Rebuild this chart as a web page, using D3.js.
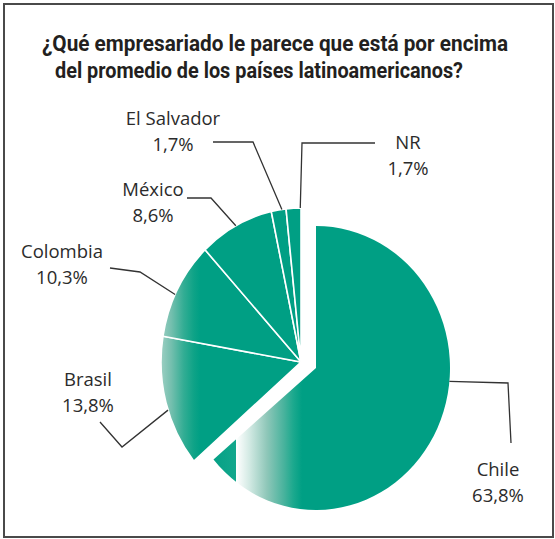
<!DOCTYPE html>
<html>
<head>
<meta charset="utf-8">
<script src="https://cdn.jsdelivr.net/npm/d3@7"></script>
<style>
  body { margin: 0; background: #fff; }
</style>
</head>
<body>
<script>
// data
const countries = ['Chile', 'Brasil', 'Colombia', 'México', 'El Salvador', 'NR'];
const shares = [63.8, 13.8, 10.3, 8.6, 1.7, 1.7];
const titleLines = [
  '¿Qué empresariado le parece que está por encima',
  'del promedio de los países latinoamericanos?'
];

// label layout: where the text sits and how the leader line bends
const labelLayout = [
  { cx: 498, y: 476, at: 0.415, elbow: [508, 383], end: [511, 443] },
  { cx: 88,  y: 386, at: 0.44,  elbow: [122, 447], end: [100, 422] },
  { cx: 62,  y: 258, at: 0.44,  elbow: [140, 272], end: [110, 268] },
  { cx: 153, y: 196, at: 0.5,   elbow: [211, 198], end: [187, 198] },
  { cx: 173, y: 125, at: 0.72,  elbow: [253, 142], end: [213, 142] },
  { cx: 408, y: 149, at: 0.95,  elbow: [302, 143], end: [375, 143] }
];
// title lines: centre x and width they fill
const titleLayout = [
  { cx: 275, w: 466 },
  { cx: 259, w: 408 }
];

const width = 555, height = 539;
const green = '#009f84';

const svg = d3.select('body').append('svg')
  .attr('width', width)
  .attr('height', height);

const defs = svg.append('defs');

// faded left edge of the small slices
const gradRest = defs.append('linearGradient')
  .attr('id', 'fadeRest')
  .attr('gradientUnits', 'userSpaceOnUse')
  .attr('x1', 159).attr('x2', 200).attr('y1', 0).attr('y2', 0);
[[0, '#a3d2c6'], [0.3, '#74bfae'], [0.6, '#33ad94'], [0.85, '#0ea387'], [1, green]].forEach(s => {
  gradRest.append('stop').attr('offset', s[0]).attr('stop-color', s[1]);
});

// the white flash inside Chile
const gradChile = defs.append('linearGradient')
  .attr('id', 'fadeChile')
  .attr('gradientUnits', 'userSpaceOnUse')
  .attr('x1', 214).attr('x2', 302).attr('y1', 0).attr('y2', 0);
[[0, '#06a186'], [0.25, '#12a78c'], [0.255, '#ffffff'], [0.4, '#d3eae4'],
 [0.6, '#8fc7b9'], [0.8, '#46b29c'], [0.9, '#1ca98e'], [1, green]].forEach(s => {
  gradChile.append('stop').attr('offset', s[0]).attr('stop-color', s[1]);
});

// frame
svg.append('rect')
  .attr('x', 4).attr('y', 4)
  .attr('width', 549).attr('height', 533)
  .attr('fill', 'none')
  .attr('stroke', '#4a4a4a')
  .attr('stroke-width', 2);

// title
svg.selectAll('.title')
  .data(titleLines)
  .enter()
  .append('text')
  .attr('class', 'title')
  .attr('x', (d, i) => titleLayout[i].cx)
  .attr('y', (d, i) => 51 + i * 27)
  .attr('text-anchor', 'middle')
  .attr('textLength', (d, i) => titleLayout[i].w)
  .attr('lengthAdjust', 'spacingAndGlyphs')
  .style('font-family', 'Roboto, "Open Sans", sans-serif')
  .style('font-weight', 'bold')
  .style('font-size', '22px')
  .style('fill', '#231f20')
  .text(d => d);

const slices = d3.pie().sort(null)(shares);

// Chile is pulled out and drawn a bit smaller than the rest
const chilePie = { cx: 316, cy: 368, rx: 134, ry: 142 };
const restPie = { cx: 301, cy: 362, rx: 140, ry: 154 };

const arcFor = p => d3.arc().innerRadius(0).outerRadius(p.rx);
const pieOf = i => i === 0 ? chilePie : restPie;

const groups = svg.selectAll('.slice')
  .data(slices)
  .enter()
  .append('g')
  .attr('class', 'slice')
  .attr('transform', (d, i) => {
    const p = pieOf(i);
    return `translate(${p.cx},${p.cy}) scale(1,${p.ry / p.rx})`;
  });

groups.append('path')
  .attr('d', (d, i) => arcFor(pieOf(i))(d))
  .attr('stroke', (d, i) => i === 0 ? 'none' : '#fff')
  .attr('stroke-width', 1.6)
  .style('vector-effect', 'non-scaling-stroke');

// gradients are in page space, so re-map them through the group transform
groups.select('path').each(function (d, i) {
  const p = pieOf(i);
  const k = p.ry / p.rx;
  const id = i === 0 ? 'fadeChile' : 'fadeRest';
  const g = defs.select('#' + id).node().cloneNode(true);
  g.setAttribute('id', `${id}-${i}`);
  g.setAttribute('gradientTransform', `scale(1,${1 / k}) translate(${-p.cx},${-p.cy * k})`);
  defs.node().appendChild(g);
  d3.select(this).attr('fill', `url(#${id}-${i})`);
});

const fmt = d3.formatLocale({ decimal: ',', thousands: '.', grouping: [3], currency: ['', ''] }).format('.1f');

// leader lines
const anchorOf = (d, i) => {
  const p = pieOf(i);
  const a = d.startAngle + (d.endAngle - d.startAngle) * labelLayout[i].at;
  return [p.cx + p.rx * Math.sin(a), p.cy - p.ry * Math.cos(a)];
};

svg.selectAll('.leader')
  .data(slices)
  .enter()
  .append('polyline')
  .attr('class', 'leader')
  .attr('points', (d, i) => [anchorOf(d, i), labelLayout[i].elbow, labelLayout[i].end].join(' '))
  .attr('fill', 'none')
  .attr('stroke', '#333')
  .attr('stroke-width', 1.3);

const labels = svg.selectAll('.label')
  .data(slices)
  .enter()
  .append('text')
  .attr('class', 'label')
  .attr('text-anchor', 'middle')
  .style('font-family', '"Open Sans", sans-serif')
  .style('font-size', '18.5px')
  .style('fill', '#2b2b2b');

labels.append('tspan')
  .attr('x', (d, i) => labelLayout[i].cx)
  .attr('y', (d, i) => labelLayout[i].y)
  .text((d, i) => countries[i]);

labels.append('tspan')
  .attr('x', (d, i) => labelLayout[i].cx)
  .attr('y', (d, i) => labelLayout[i].y + 26)
  .text(d => fmt(d.data) + '%');
</script>
</body>
</html>
